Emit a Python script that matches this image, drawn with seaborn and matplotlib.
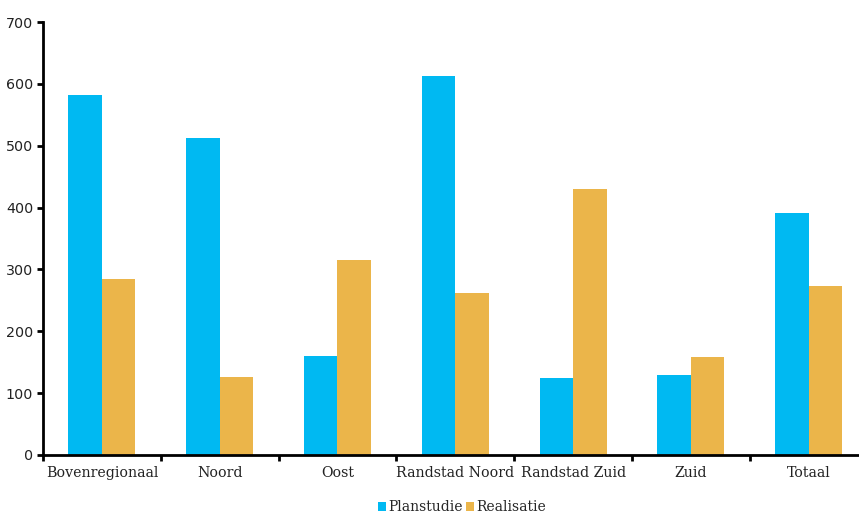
import matplotlib
matplotlib.use("Agg")
import matplotlib.pyplot as plt
import seaborn as sns
import pandas as pd

categories = ["Bovenregionaal", "Noord", "Oost", "Randstad Noord", "Randstad Zuid", "Zuid", "Totaal"]
planstudie = [582, 513, 160, 613, 124, 129, 392]
realisatie = [285, 126, 316, 262, 430, 159, 274]
series = ["Planstudie", "Realisatie"]
colors = ["#00B9F2", "#EBB54A"]

df = pd.DataFrame({
    "cat": categories * 2,
    "val": planstudie + realisatie,
    "serie": [series[0]] * len(categories) + [series[1]] * len(categories),
})

sns.set_style("white")
plt.rcParams["font.family"] = ["DejaVu Sans"]

W, H = 859, 513
fig = plt.figure(figsize=(W / 100, H / 100), dpi=100)
ax = fig.add_axes([43 / W, 1 - 455 / H, (859 - 43) / W, (455 - 22) / H])

sns.barplot(data=df, x="cat", y="val", hue="serie", palette=colors, width=0.57,
            ax=ax, saturation=1, linewidth=0, legend=False)

ax.set_yticks(range(0, 701, 100))
ax.set_xlabel("")
ax.set_ylabel("")
ax.set_xticks(range(len(categories)))
ax.set_xticklabels(categories, fontfamily="DejaVu Serif", fontsize=10.2, color="#222222")
ax.tick_params(axis="x", which="major", bottom=True, length=0, pad=8)
ax.tick_params(axis="y", left=True, length=4, width=2, direction="out", labelsize=10.3,
               color="black", labelcolor="#222222", pad=3)
ax.set_xticks([i + 0.5 for i in range(-1, len(categories) - 1)], minor=True)
ax.tick_params(axis="x", which="minor", bottom=True, length=4, width=2, direction="out", color="black")
ax.set_ylim(0, 700)
ax.set_xlim(-0.5, -0.5 + (859 - 43) / 117.8)

for s in ["top", "right"]:
    ax.spines[s].set_visible(False)
for s in ["left", "bottom"]:
    ax.spines[s].set_linewidth(2)
    ax.spines[s].set_color("black")

from matplotlib.patches import Patch
handles = [Patch(facecolor=c, edgecolor="none") for c in colors]
fig.legend(handles, series, loc="center", bbox_to_anchor=(462 / W, 1 - 507 / H),
           ncol=2, frameon=False, handlelength=0.6, handleheight=0.6,
           handletextpad=0.15, columnspacing=0.2,
           prop={"family": "DejaVu Serif", "size": 10})

fig.savefig("out.png", dpi=100)
